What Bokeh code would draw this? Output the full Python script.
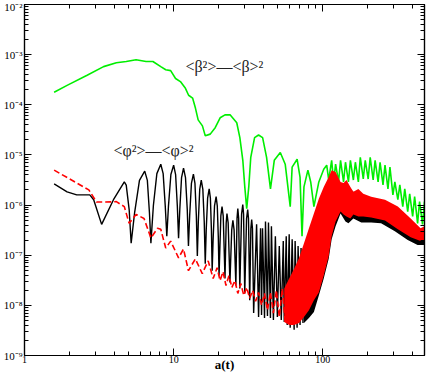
from bokeh.plotting import figure
from bokeh.models import (Range1d, LogAxis, FixedTicker, CustomJSTickFormatter, Label)
from bokeh.embed import file_html
from bokeh.resources import INLINE

# ---------------- data ----------------
green_a = [1.58, 1.93, 2.61, 3.39, 4.13, 4.81, 5.6, 6.53, 7.26, 8.2,
           8.85, 9.55, 10.3, 11.1, 12.0, 12.6, 13.4, 14.0, 14.6, 15.6,
           16.3, 17.6, 19.0, 20.5, 22.1, 23.9, 26.5, 27.8, 29.1, 30.0,
           30.9, 31.9, 32.9, 34.9, 37.1, 39.5, 42.0, 44.6, 47.3, 51.9,
           56.0, 60.5, 62.3, 67.3, 70.4, 72.6, 74.8, 79.5, 83.0, 87.2,
           94.1, 101.5,
           106.3, 109.6, 114.7, 118.3, 121.9, 127.6, 131.6, 137.8, 142.0, 148.6,
           153.2, 160.4, 165.4, 173.2, 178.5, 186.9, 192.7, 201.6, 208.0, 217.7,
           224.4, 235, 242.2, 253.5, 261.4, 273.6, 282.1, 295.3, 304.4, 318.7,
           328.6, 343.9, 354.6, 371.2, 382.7, 400.6, 413, 432.3, 445.7, 466.6, 481]
green_v = [1.78e-4, 2.44e-4, 3.84e-4, 5.77e-4, 6.9e-4, 7.3e-4, 7.9e-4, 7.3e-4, 7.3e-4, 5.77e-4,
           5.0e-4, 4.8e-4, 3.35e-4, 2.9e-4, 2.13e-4, 1.55e-4, 1.36e-4, 8.6e-5, 5.0e-5, 3.8e-5,
           2.4e-5, 2.6e-5, 3.5e-5, 5.5e-5, 6.3e-5, 6.3e-5, 4.38e-5, 2.22e-5, 7.82e-6, 2.3e-6,
           8.5e-7, 2.3e-6, 8.96e-6, 2.22e-5, 2.5e-5, 2.22e-5, 8.96e-6, 2.1e-6, 7.82e-6, 1.12e-5,
           6.53e-6, 9.3e-7, 5.7e-6, 8.2e-6, 3.62e-6, 2.39e-7, 2.3e-6, 4.97e-6, 2.89e-6, 9.3e-7,
           2.89e-6, 5.2e-6,
           6.24e-6, 3.16e-6, 7.82e-6, 2.89e-6, 6.53e-6, 2.89e-6, 7.82e-6, 2.89e-6, 7.15e-6, 2.89e-6,
           7.82e-6, 3.16e-6, 7.15e-6, 2.89e-6, 8.96e-6, 3.31e-6, 7.82e-6, 3.31e-6, 8.96e-6, 3.16e-6,
           7.82e-6, 2.89e-6, 7.15e-6, 2.52e-6, 6.24e-6, 2.10e-6, 5.7e-6, 1.6e-6, 2.89e-6, 1.28e-6,
           2.52e-6, 9.32e-7, 2.10e-6, 7.43e-7, 1.68e-6, 5.92e-7, 1.47e-6, 4.32e-7, 1.17e-6, 4.12e-7, 1.17e-6]

black_a = [1.58, 1.93, 2.24, 2.74, 2.91, 3.29, 3.95, 4.67, 4.81, 5.035, 5.19,
           5.475, 5.90, 6.4, 6.665, 6.882, 7.04,
           7.315, 7.719, 8.2, 8.506, 8.783, 9.0,
           9.23, 9.583, 10.0, 10.31, 10.59, 10.79,
           11.0, 11.30, 11.65, 12.01, 12.34, 12.57,
           12.81, 13.16, 13.57, 13.9, 14.2, 14.42,
           14.64, 14.96, 15.32, 15.7, 16.04, 16.29,
           16.54, 16.9, 17.31, 17.64, 17.92, 18.13,
           18.41, 18.8, 19.27, 19.62, 19.94, 20.16,
           20.73, 21.11, 21.5, 22.1,
           22.51, 22.78, 23.21, 23.85,
           24.52, 24.97, 25.43, 26.14,
           26.62, 26.94, 27.28, 27.78,
           28.55, 29.08, 29.44, 29.98,
           30.82, 31.38, 31.77, 32.36,
           32.95, 33.37, 33.77, 34.4,
           36.0, 37.12, 38.27, 38.86, 39.45, 40.68, 41.3, 42.58, 43.24, 44.57,
           45.26, 46.66, 48.1, 49.6, 51.1, 52.7, 54.34, 55.17, 56.89, 57.76,
           59.55, 60.47, 62.34, 64.27, 65.26, 67.28, 68.31, 70.42, 71.5, 73.7, 74.83, 77.15]
black_v = [2.64e-6, 1.84e-6, 1.6e-6, 1.6e-6, 1.28e-6, 4.12e-7, 1.28e-6, 2.89e-6, 2.5e-6, 8.0e-7, 1.74e-7,
           7.1e-7, 3.1e-6, 4.75e-6, 3.1e-6, 7.1e-7, 1.74e-7,
           9.8e-7, 4.24e-6, 6.53e-6, 4.24e-6, 9.8e-7, 2.39e-7,
           9.4e-7, 4.06e-6, 6.24e-6, 4.06e-6, 9.4e-7, 2.19e-7,
           8.2e-7, 3.54e-6, 5.44e-6, 3.54e-6, 8.2e-7, 1.52e-7,
           6.2e-7, 2.7e-6, 4.15e-6, 2.7e-6, 6.2e-7, 9.68e-8,
           4.7e-7, 2.05e-6, 3.16e-6, 2.05e-6, 4.7e-7, 6.74e-8,
           3.2e-7, 1.37e-6, 2.10e-6, 1.37e-6, 3.2e-7, 4.91e-8,
           2.2e-7, 9.6e-7, 1.47e-6, 9.6e-7, 2.2e-7, 3.92e-8,
           6.1e-7, 9.32e-7, 6.1e-7, 3.42e-8,
           4.4e-7, 6.79e-7, 4.4e-7, 2.85e-8,
           3.2e-7, 4.94e-7, 3.2e-7, 2.49e-8,
           5.5e-7, 8.51e-7, 5.5e-7, 2.17e-8,
           6.6e-7, 1.02e-6, 6.6e-7, 1.73e-8,
           5.3e-7, 8.13e-7, 5.3e-7, 1.26e-8,
           3.4e-7, 5.17e-7, 3.4e-7, 7.01e-9,
           4.12e-7, 5.85e-9, 3.44e-7, 6.40e-9, 3.44e-7, 5.59e-9, 4.72e-7, 6.12e-9, 4.51e-7, 5.59e-9,
           3.77e-7, 5.11e-9, 2.39e-7, 5.85e-9, 1.52e-7, 5.11e-9, 1.91e-7, 4.67e-9, 2.39e-7, 4.07e-9,
           2.62e-7, 3.56e-9, 2.09e-7, 3.25e-9, 1.91e-7, 3.56e-9, 1.52e-7, 4.07e-9, 1.39e-7, 4.46e-9, 9.68e-8, 5.11e-9]

# dense (unresolved) part of the black curve: lower / upper envelope
blackband_a = [74.83, 80.77, 87.2, 94.1, 101.5, 109.6, 114.7, 121.9, 131.6, 142.0,
               148.6, 160.4, 181.3, 211.1, 245.9, 304.4, 371.2, 432.3, 481]
blackband_hi = [9.68e-8, 2.39e-7, 5.41e-7, 1.07e-6, 1.84e-6, 2.89e-6, 3.97e-6, 3.62e-6, 2.64e-6, 2.3e-6,
                2.3e-6, 1.84e-6, 1.47e-6, 1.17e-6, 1.02e-6, 7.43e-7, 4.32e-7, 2.35e-7, 2.35e-7]
blackband_lo = [4.46e-9, 5.59e-9, 7.34e-9, 1.58e-8, 3.42e-8, 8.46e-8, 2.09e-7, 3.77e-7, 6.79e-7, 4.72e-7,
                4.32e-7, 5.41e-7, 4.51e-7, 4.51e-7, 4.32e-7, 3.00e-7, 2.0e-7, 1.59e-7, 1.59e-7]

red_a = [1.58, 2.70, 3.04, 3.49, 4.13, 4.67, 5.03, 5.6, 6.33, 7.04,
         7.8, 8.2, 8.85, 9.55, 10.79, 11.65, 12.57, 13.99, 15.56, 17.05,
         18.41, 19.56, 20.48, 21.43, 22.44, 23.49, 24.59, 25.74, 26.94, 28.2,
         29.53, 30.91, 32.36, 33.88, 35.46, 37.12, 38.86, 40.68, 42.58, 44.57,
         46.66, 48.84, 51.1, 53.5, 56.02, 58.65]
red_v = [4.97e-6, 2.01e-6, 1.15e-6, 1.15e-6, 1.17e-6, 9.3e-7, 4.32e-7, 6.49e-7, 5.41e-7, 2.2e-7,
         3.44e-7, 3.29e-7, 1.39e-7, 1.91e-7, 8.85e-8, 1.33e-7, 4.91e-8, 8.46e-8, 4.29e-8, 7.72e-8,
         3.42e-8, 5.63e-8, 3.12e-8, 4.69e-8, 2.49e-8, 3.92e-8, 2.28e-8, 3.12e-8, 1.73e-8, 2.73e-8,
         1.58e-8, 2.28e-8, 1.38e-8, 1.99e-8, 1.21e-8, 1.81e-8, 1.01e-8, 1.73e-8, 8.03e-9, 1.81e-8,
         7.01e-9, 1.99e-8, 5.85e-9, 2.17e-8, 4.67e-9, 2.49e-8]

# dense (unresolved) part of the red curve: lower / upper envelope
redband_a = [55.17, 59.55, 64.27, 69.36, 74.83, 80.77, 87.2, 94.1, 101.5, 109.6,
             114.7, 121.9, 131.6, 137.8, 144.2, 153.2, 160.4, 173.2, 186.9, 211.1,
             261.4, 318.7, 388.6, 452.5, 481]
redband_hi = [2.17e-8, 3.42e-8, 5.38e-8, 8.85e-8, 1.74e-7, 3.44e-7, 6.79e-7, 1.34e-6, 2.30e-6, 3.62e-6,
              4.97e-6, 4.54e-6, 2.89e-6, 2.76e-6, 3.16e-6, 2.30e-6, 1.84e-6, 2.10e-6, 1.68e-6, 1.47e-6,
              1.28e-6, 9.32e-7, 5.41e-7, 3.44e-7, 3.77e-7]
redband_lo = [4.67e-9, 4.07e-9, 4.07e-9, 4.46e-9, 5.85e-9, 8.03e-9, 1.26e-8, 1.81e-8, 3.92e-8, 9.68e-8,
              2.39e-7, 4.72e-7, 7.43e-7, 6.49e-7, 5.92e-7, 5.41e-7, 6.49e-7, 5.92e-7, 5.92e-7, 5.66e-7,
              4.94e-7, 3.29e-7, 2.29e-7, 1.91e-7, 1.91e-7]

x_major = [1, 10, 100]
y_exponents = list(range(-9, -1))
x_title = "a(t)"
beta_label = "<β²>—<β>²"
phi_label = "<φ²>—<φ>²"

# ---------------- figure ----------------
FONT = "Liberation Serif"
X_END = 481
p = figure(width=428, height=374, x_axis_type="log", y_axis_type="log",
           x_range=Range1d(1, X_END), y_range=Range1d(1e-9, 1e-2),
           output_backend="svg", toolbar_location=None,
           min_border_left=0, min_border_right=4, min_border_top=4, min_border_bottom=0)
p.xgrid.visible = False
p.ygrid.visible = False
p.outline_line_color = "black"
p.outline_line_width = 1.2
p.background_fill_color = "white"
p.border_fill_color = "white"

x_minor = [m * 10 ** e for e in range(0, 3) for m in range(2, 10) if m * 10 ** e < X_END]
y_major = [10.0 ** e for e in y_exponents]
y_minor = [m * 10.0 ** e for e in range(-9, -2) for m in range(2, 10)]
xt = FixedTicker(ticks=x_major, minor_ticks=x_minor)
yt = FixedTicker(ticks=y_major, minor_ticks=y_minor)

yfmt = CustomJSTickFormatter(code="""
const e = Math.round(Math.log10(tick));
const m = {"-":"\u207b","0":"\u2070","1":"\u00b9","2":"\u00b2","3":"\u00b3","4":"\u2074",
           "5":"\u2075","6":"\u2076","7":"\u2077","8":"\u2078","9":"\u2079"};
return "10" + String(e).split("").map(c => m[c]).join("");
""")
xfmt = CustomJSTickFormatter(code="return String(Math.round(tick));")
blank = CustomJSTickFormatter(code="return '';")


def style(ax):
    ax.major_tick_in = 7
    ax.major_tick_out = 0
    ax.minor_tick_in = 4
    ax.minor_tick_out = 0
    ax.axis_line_color = "black"
    ax.axis_line_width = 1.2
    ax.major_tick_line_color = "black"
    ax.minor_tick_line_color = "black"
    ax.major_label_text_font = FONT
    ax.major_label_text_font_size = "11px"
    ax.major_label_text_color = "black"
    ax.major_label_text_line_height = 1.0
    ax.major_label_standoff = 2


p.xaxis.ticker = xt
p.xaxis.formatter = xfmt
p.yaxis.ticker = yt
p.yaxis.formatter = yfmt
style(p.xaxis[0])
style(p.yaxis[0])
p.xaxis.major_label_standoff = 0
p.xaxis.major_label_text_font_size = "10px"
p.xaxis.axis_label = x_title
p.xaxis.axis_label_text_font = FONT
p.xaxis.axis_label_text_font_style = "bold"
p.xaxis.axis_label_text_font_size = "13px"
p.xaxis.axis_label_text_color = "black"
p.xaxis.axis_label_text_line_height = 1.0
p.xaxis.axis_label_standoff = -9

right = LogAxis(ticker=yt, formatter=blank)
top = LogAxis(ticker=xt, formatter=blank)
for ax in (right, top):
    style(ax)
    ax.major_label_text_font_size = "0px"
    ax.major_label_standoff = 0
p.add_layout(right, "right")
p.add_layout(top, "above")

# ---------------- curves ----------------
p.line(green_a, green_v, line_color="#00ee00", line_width=1.6)
p.line(black_a, black_v, line_color="black", line_width=1.4)
p.varea(x=blackband_a, y1=blackband_lo, y2=blackband_hi, fill_color="black")
p.line(red_a, red_v, line_color="#ff0000", line_width=1.6, line_dash="6 3")
p.varea(x=redband_a, y1=redband_lo, y2=redband_hi, fill_color="#ff0000")

p.add_layout(Label(x=12.0, y=3.84e-4, text=beta_label, text_font=FONT,
                   text_font_size="16px", text_color="#222222", text_baseline="bottom"))
p.add_layout(Label(x=3.95, y=8.2e-6, text=phi_label, text_font=FONT,
                   text_font_size="16px", text_color="#222222", text_baseline="bottom"))

open("out.html", "w").write(file_html(p, INLINE))
